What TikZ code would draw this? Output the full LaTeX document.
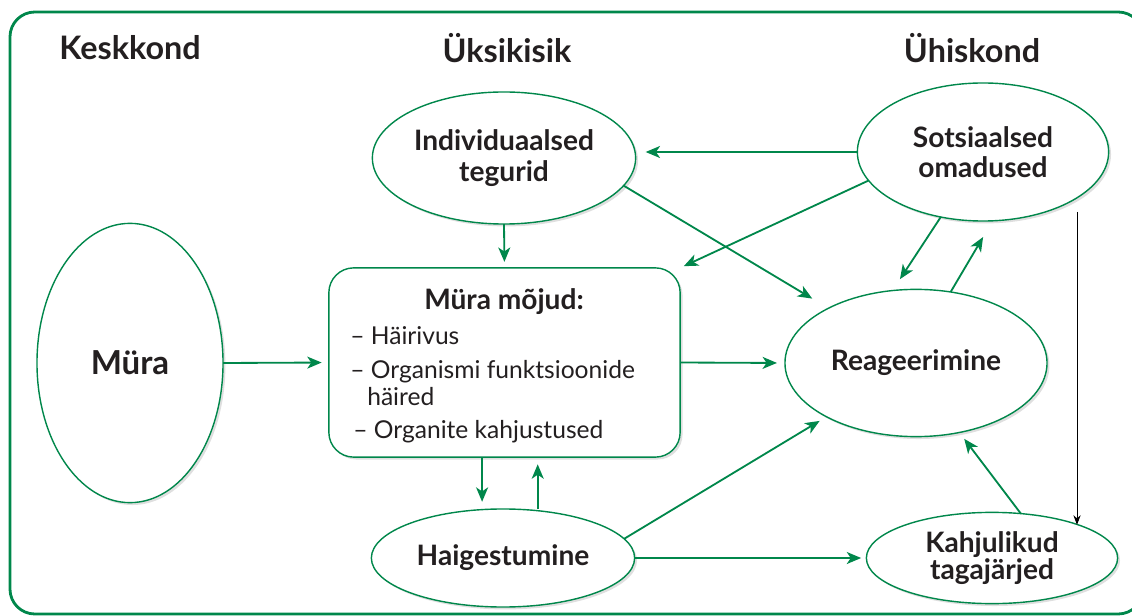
\documentclass[tikz,border=0pt]{standalone}
\usepackage{fontspec}
\setmainfont{Lato}
\usetikzlibrary{
	shapes.geometric,
	arrows.meta,
	positioning,
	shadows
}

\definecolor{muragreen}{RGB}{0,135,75}
\definecolor{inkdark}{RGB}{35,31,32}

\begin{document}
\begin{tikzpicture}[x=0.025cm, y=-0.025cm,
    oval/.style={ellipse, draw=muragreen, line width=1pt, fill=white,
        inner sep=0pt, outer sep=0pt, align=center, text=inkdark,
        font=\bfseries\fontsize{20}{21.5}\selectfont,
        drop shadow={shadow xshift=0.06cm, shadow yshift=-0.06cm, opacity=0.25}},
    effectbox/.style={rectangle, rounded corners=0.62cm, draw=muragreen,
        line width=1pt, fill=white, outer sep=0pt,
        minimum width=8.78cm, minimum height=4.73cm,
        drop shadow={shadow xshift=0.06cm, shadow yshift=-0.06cm, opacity=0.25}},
    heading/.style={font=\bfseries\fontsize{23}{26}\selectfont, text=inkdark},
    listline/.style={anchor=base west, inner sep=0pt, text=inkdark,
        font=\fontsize{17.5}{20}\selectfont},
    flow/.style={draw=muragreen, line width=1.3pt, shorten >=0.18cm,
        -{Stealth[length=0.36cm, width=0.3cm, inset=0.1cm]}},
    blackflow/.style={draw=black, line width=0.7pt,
        -{Stealth[length=0.24cm, width=0.18cm]}}
]

\useasboundingbox (0,0) rectangle (1132,616);

% Outer frame
\begin{scope}
    \clip (0,0) rectangle (1132,616);
    \draw[muragreen, line width=2pt, rounded corners=0.62cm] (10,12) rectangle (1143,614);
\end{scope}

% Column headers
\node[heading] (keskkond) at (130,48) {Keskkond};
\node[heading] (yksikisik) at (507,48) {Üksikisik};
\node[heading] (yhiskond) at (972,48) {Ühiskond};

% Ovals
\node[oval, minimum width=4.65cm, minimum height=6.98cm,
      font=\bfseries\fontsize{23.5}{26}\selectfont] (mura) at (130,363) {Müra};
\node[oval, minimum width=6.58cm, minimum height=3.3cm] (indiv) at (504,158) {Individuaalsed\\tegurid};
\node[oval, minimum width=6.28cm, minimum height=3.45cm] (sots) at (983,152) {Sotsiaalsed\\omadused};
\node[oval, minimum width=6.55cm, minimum height=3.68cm] (reag) at (916,363) {Reageerimine};
\node[oval, minimum width=6.58cm, minimum height=2.45cm] (haig) at (503,558) {Haigestumine};
\node[oval, minimum width=6.28cm, minimum height=2.28cm,
      font=\bfseries\fontsize{20}{16.5}\selectfont] (kahj) at (992,558) {Kahjulikud\\tagajärjed};

% Effects box with its list
\node[effectbox] (mojud) at (504.5,362.5) {};
\node[anchor=base, inner sep=0pt, text=inkdark,
      font=\bfseries\fontsize{20}{22}\selectfont] (mojudtitle) at (504,310) {Müra mõjud:};
\node[listline] (hairivus) at (350,345) {– Häirivus};
\node[listline] (organismi) at (350,378) {– Organismi funktsioonide};
\node[listline] (haired) at (367,406) {häired};
\node[listline] (organite) at (353,438) {– Organite kahjustused};

% Connectors
\draw[flow] (mura.east) -- (mojud.west);
\draw[flow, shorten >=0.2cm] (mojud.east) -- (reag.west);
\draw[flow, shorten >=0.15cm] (indiv.south) -- (mojud.north);
\draw[flow, shorten >=0.47cm] (indiv.-13) -- (reag.148);
\draw[flow, shorten >=0.25cm] (sots.west) -- (sots.west -| indiv.east);
\draw[flow, shorten >=0.1cm] (sots.194) -- (mojud.north east);
\draw[flow, shorten >=0.34cm] (sots.237) -- (reag.108);
\draw[flow, shorten >=0.47cm] (reag.64) -- (sots.278);
\draw[flow] ([xshift=-0.56cm]mojud.south) -- ([xshift=-0.56cm]mojud.south |- haig.north);
\draw[flow] ([xshift=0.83cm]mojud.south |- haig.north) -- ([xshift=0.83cm]mojud.south);
\draw[flow, shorten >=0.2cm] (haig.9) -- (reag.211);
\draw[flow, shorten >=0.13cm] (haig.east) -- (kahj.west);
\draw[flow, shorten >=0.2cm] (kahj.57) -- (reag.302);
\coordinate (sotsdrop) at (1077,212);
\draw[blackflow] (sotsdrop) -- (sotsdrop |- kahj.21);

\end{tikzpicture}
\end{document}
